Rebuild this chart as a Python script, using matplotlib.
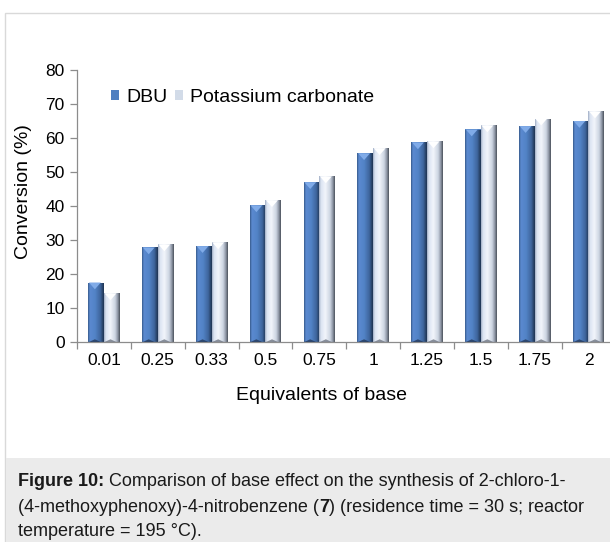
import numpy as np
import matplotlib
matplotlib.use('AGG')
import matplotlib.pyplot as plt
from matplotlib.colors import LinearSegmentedColormap
from matplotlib.patches import Polygon, Rectangle

plt.rcParams['font.family'] = ['Liberation Sans', 'DejaVu Sans']

# data
equivalents = ['0.01', '0.25', '0.33', '0.5', '0.75', '1', '1.25', '1.5', '1.75', '2']
dbu = [17.5, 27.8, 28.2, 40.2, 47.0, 55.5, 58.7, 62.5, 63.5, 65.0]
k2co3 = [14.3, 28.7, 29.3, 41.7, 48.7, 57.0, 59.0, 63.7, 65.7, 67.8]
series_names = ['DBU', 'Potassium carbonate']

W, H = 610, 542
fig = plt.figure(figsize=(W / 100, H / 100), dpi=100)

# page frame + caption box
fig.add_artist(Rectangle((5 / W, 0), 1.2, 1 - 13 / H, transform=fig.transFigure,
                         facecolor='white', edgecolor='#d9d9d9', lw=1.0, zorder=0))
fig.add_artist(Rectangle((5.5 / W, 0), 1.2, (H - 458) / H, transform=fig.transFigure,
                         facecolor='#ebebeb', edgecolor='none', zorder=0))

ax = fig.add_axes([77 / W, (H - 342) / H, 1 - 77 / W, 272 / H])
ax.patch.set_alpha(0)

x = np.arange(len(equivalents))
bw = 0.29
bars_dbu = ax.bar(x - bw / 2, dbu, bw, color='#4f7fc0', edgecolor='none', zorder=1, label=series_names[0])
bars_k = ax.bar(x + bw / 2, k2co3, bw, color='#d2dbe8', edgecolor='none', zorder=1, label=series_names[1])

# horizontal shading to imitate the 3-D bevelled bars
cm_dbu = LinearSegmentedColormap.from_list('dbu', [
    (0.0, '#36598a'), (0.12, '#5b8ad0'), (0.45, '#5283c6'), (0.78, '#3e659c'),
    (0.9, '#2c4870'), (1.0, '#1f3452')])
cm_k = LinearSegmentedColormap.from_list('k', [
    (0.0, '#9eabc2'), (0.12, '#dbe4f2'), (0.4, '#f2f5fb'), (0.7, '#cdd5e2'),
    (0.87, '#8e96a5'), (1.0, '#4a505a')])
grad = np.linspace(0, 1, 128).reshape(1, -1)

for bars, cm, top_col, bot_col in [(bars_dbu, cm_dbu, '#80abe8', '#24395a'),
                                   (bars_k, cm_k, '#ffffff', '#6f7683')]:
    for b in bars:
        x0, w, h = b.get_x(), b.get_width(), b.get_height()
        im = ax.imshow(grad, extent=[x0, x0 + w, 0, h], cmap=cm, aspect='auto',
                       interpolation='bilinear', zorder=2)
        im.set_clip_path(b)
        # bevel on top and bottom
        ax.add_patch(Polygon([(x0 + w * 0.04, h), (x0 + w * 0.8, h), (x0 + w * 0.42, h - 2.0)],
                             closed=True, facecolor=top_col, edgecolor='none', zorder=3))
        ax.add_patch(Polygon([(x0 + w * 0.04, 0), (x0 + w * 0.8, 0), (x0 + w * 0.42, 0.8)],
                             closed=True, facecolor=bot_col, edgecolor='none', alpha=0.8, zorder=3))

ax.set_xlim(-0.5, 9.4)
ax.set_ylim(0, 80)
ax.set_yticks(np.arange(0, 81, 10))
ax.set_xticks(x)
ax.set_xticklabels(equivalents)
ax.set_xticks(np.arange(-0.5, 9.0, 1), minor=True)

for s in ['top', 'right']:
    ax.spines[s].set_visible(False)
for s in ['left', 'bottom']:
    ax.spines[s].set_color('#8c8c8c')
    ax.spines[s].set_linewidth(0.9)

ax.tick_params(axis='y', direction='out', length=5, width=0.9, color='#8c8c8c',
               pad=4, labelsize=12.5, labelcolor='black')
ax.tick_params(axis='x', which='major', length=0, pad=8, labelsize=12.5, labelcolor='black')
ax.tick_params(axis='x', which='minor', direction='out', length=5, width=0.9, color='#8c8c8c')

fig.text(322 / W, 1 - 395 / H, 'Equivalents of base', ha='center', va='center', fontsize=14)
fig.text(24 / W, 1 - 192 / H, 'Conversion (%)', ha='center', va='center', rotation=90, fontsize=14)

leg = fig.legend(handles=[bars_dbu, bars_k], labels=series_names, loc='center left',
                 bbox_to_anchor=(111 / W, 1 - 97 / H), ncol=2, frameon=False, fontsize=14,
                 handlelength=0.42, handleheight=0.42, handletextpad=0.35,
                 columnspacing=0.4, borderpad=0, borderaxespad=0)

# caption with bold parts
cap_fs = 13
cy = [482, 507, 531]
t = fig.text(18 / W, 1 - cy[0] / H, 'Figure 10:', fontsize=cap_fs, fontweight='bold', va='center', color='#1a1a1a')
ax.annotate(' Comparison of base effect on the synthesis of 2-chloro-1-', xy=(1, 0), xycoords=t,
            va='bottom', ha='left', fontsize=cap_fs, color='#1a1a1a')
t = fig.text(18 / W, 1 - cy[1] / H, '(4-methoxyphenoxy)-4-nitrobenzene (', fontsize=cap_fs, va='center', color='#1a1a1a')
t = ax.annotate('7', xy=(1, 0), xycoords=t, va='bottom', ha='left', fontsize=cap_fs,
                fontweight='bold', color='#1a1a1a')
ax.annotate(') (residence time = 30 s; reactor', xy=(1, 0), xycoords=t, va='bottom', ha='left',
            fontsize=cap_fs, color='#1a1a1a')
fig.text(18 / W, 1 - cy[2] / H, 'temperature = 195 \u00b0C).', fontsize=cap_fs, va='center', color='#1a1a1a')

fig.savefig('out.png', dpi=100)
